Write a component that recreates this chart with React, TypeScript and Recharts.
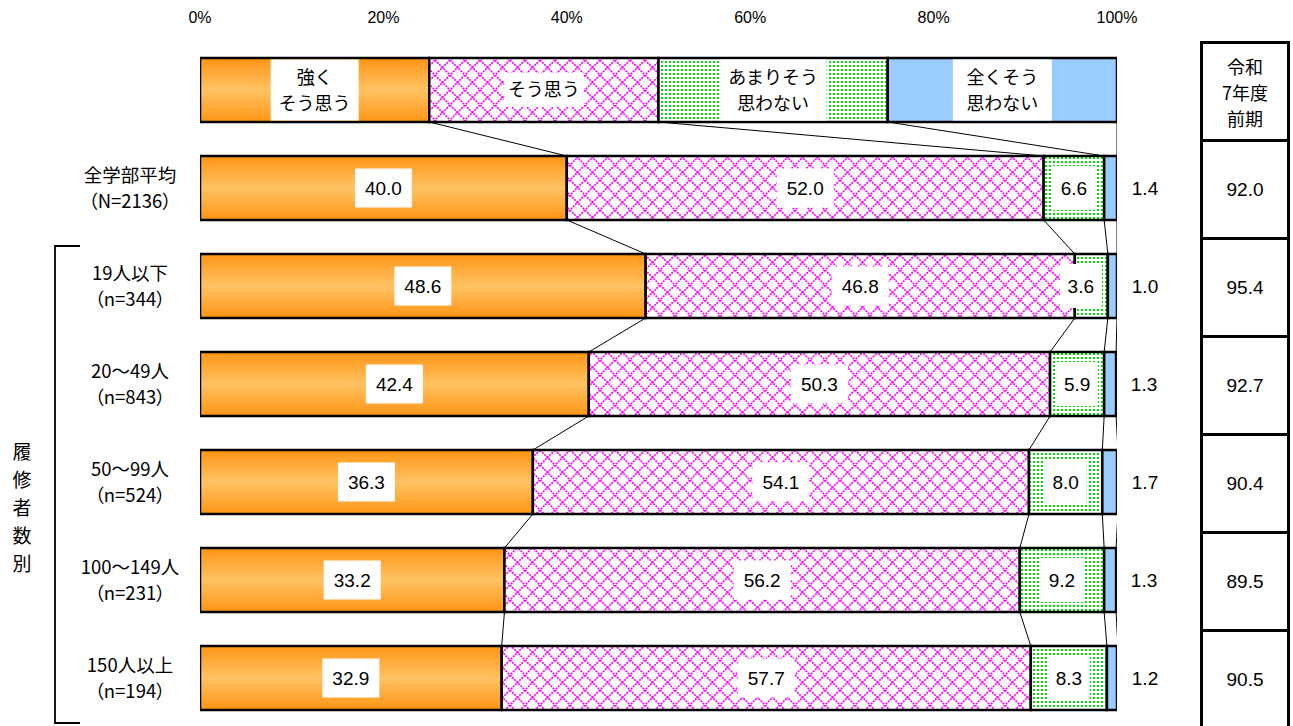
import React from 'react';
import { BarChart, Bar, XAxis, YAxis, LabelList } from 'recharts';

const categories = ['', '全学部平均', '19人以下', '20〜49人', '50〜99人', '100〜149人', '150人以上'];
const sampleSizes = ['', '（N=2136）', '（n=344）', '（n=843）', '（n=524）', '（n=231）', '（n=194）'];
const strongAgree = [25, 40.0, 48.6, 42.4, 36.3, 33.2, 32.9];
const agree = [25, 52.0, 46.8, 50.3, 54.1, 56.2, 57.7];
const disagree = [25, 6.6, 3.6, 5.9, 8.0, 9.2, 8.3];
const strongDisagree = [25, 1.4, 1.0, 1.3, 1.7, 1.3, 1.2];
const legendLabels = [['強く', 'そう思う'], ['そう思う'], ['あまりそう', '思わない'], ['全くそう', '思わない']];
const xTicks = [0, 20, 40, 60, 80, 100];
const tableHeader = ['令和', '7年度', '前期'];
const positiveRate = [92.0, 95.4, 92.7, 90.4, 89.5, 90.5];
const groupTitle = ['履', '修', '者', '数', '別'];

const FONT = '"Liberation Sans", "Noto Sans CJK JP", sans-serif';
const JFONT = '"Noto Sans CJK JP", sans-serif';
const GAP = 0.1735;

const series = [strongAgree, agree, disagree, strongDisagree];
const keys = ['s1', 's2', 's3', 's4'];
const fills = ['url(#gOrange)', 'url(#pMagenta)', 'url(#pGreen)', '#99CCFF'];

const data = categories.map((name, i) => ({
  name: name || ' ',
  s1: strongAgree[i],
  s2: agree[i],
  s3: disagree[i],
  s4: strongDisagree[i],
}));

const cum = (i: number, k: number) => {
  let s = 0;
  for (let j = 0; j <= k; j++) s += series[j][i];
  return s;
};

const legendBoxW = [88, 80, 107, 99];

const rowIndex = (p: any) => {
  if (typeof p.index === 'number') return p.index;
  const n = p.payload?.name;
  return data.findIndex((d) => d.name === n);
};

const makeShape = (k: number) => (p: any) => {
  const x = Number(p.x), y = Number(p.y), w = Number(p.width), h = Number(p.height);
  const i = rowIndex(p);
  const conn: React.ReactNode[] = [];
  if (k === 0 && i > 0) {
    const ppu = w / strongAgree[i];
    const gapPx = (h * 2 * GAP) / (1 - 2 * GAP);
    for (let j = 0; j < 4; j++) {
      conn.push(
        <line
          key={j}
          x1={x + cum(i - 1, j) * ppu}
          y1={y - gapPx}
          x2={x + cum(i, j) * ppu}
          y2={y}
          stroke="#000"
          strokeWidth={1}
        />
      );
    }
  }
  return (
    <g>
      {conn}
      <rect x={x} y={y} width={w} height={h} fill={fills[k]} stroke="#000" strokeWidth={2.5} />
    </g>
  );
};

const YTick = (p: any) => {
  const v = p.payload?.value;
  let i = p.payload?.index;
  if (typeof i !== 'number') i = data.findIndex((d) => d.name === v);
  if (!categories[i]) return null;
  const cx = p.x - 62;
  return (
    <text x={cx} y={p.y} textAnchor="middle" fontSize={18.5} fontFamily={JFONT} fill="#000" style={{ fontFeatureSettings: '"palt"' }}>
      <tspan x={cx} dy={-6}>{categories[i]}</tspan>
      <tspan x={cx} dy={26}>{sampleSizes[i]}</tspan>
    </text>
  );
};

const XTick = (p: any) => (
  <text x={p.x} y={p.y - 10} textAnchor="middle" fontSize={16} fontFamily={FONT} fill="#000">
    {`${p.payload.value}%`}
  </text>
);

const makeLabel = (k: number) => (p: any) => {
  const x = Number(p.x), y = Number(p.y), w = Number(p.width), h = Number(p.height);
  const index = p.index;
  const cx = x + w / 2;
  const cy = y + h / 2;
  if (index === 0) {
    const lines = legendLabels[k];
    const bw = legendBoxW[k];
    const bh = k === 1 ? 34 : h - 3;
    return (
      <g>
        <rect x={cx - bw / 2} y={cy - bh / 2} width={bw} height={bh} fill="#fff" />
        <text x={cx} y={cy} textAnchor="middle" fontSize={18} fontFamily={JFONT} fill="#000">
          {lines.length === 1 ? (
            <tspan x={cx} dy={6}>{lines[0]}</tspan>
          ) : (
            <>
              <tspan x={cx} dy={-6}>{lines[0]}</tspan>
              <tspan x={cx} dy={26}>{lines[1]}</tspan>
            </>
          )}
        </text>
      </g>
    );
  }
  const str = Number(p.value).toFixed(1);
  if (k === 3) {
    return (
      <text x={x + w + 28} y={cy + 7} textAnchor="middle" fontSize={19} fontFamily={FONT} fill="#000">
        {str}
      </text>
    );
  }
  const bw = k === 2 ? str.length * 10 + 12 : str.length * 10 + 17;
  const bh = k === 2 ? 44 : 39;
  let bx = cx - bw / 2;
  if (bx + bw > x + w - 6) bx = x + w - 6 - bw;
  const tx = bx + bw / 2;
  return (
    <g>
      <rect x={bx} y={cy - bh / 2} width={bw} height={bh} fill="#fff" />
      <text x={tx} y={cy + 7} textAnchor="middle" fontSize={19} fontFamily={FONT} fill="#000">
        {str}
      </text>
    </g>
  );
};

export default function App() {
  return (
    <div style={{ position: 'absolute', left: 0, top: 0, width: 1293, height: 726, overflow: 'hidden', background: '#fff' }}>
      <svg width={0} height={0} style={{ position: 'absolute' }}>
        <defs>
          <linearGradient id="gOrange" x1="0" y1="0" x2="0" y2="1">
            <stop offset="0%" stopColor="#FF9514" />
            <stop offset="50%" stopColor="#FFC262" />
            <stop offset="100%" stopColor="#FF9514" />
          </linearGradient>
          <pattern id="pMagenta" patternUnits="userSpaceOnUse" width={15} height={15}>
            <rect x={0} y={0} width={15} height={15} fill="#fff" />
            <path d="M0,0 L15,15 M15,0 L0,15" stroke="#FF00FF" strokeWidth={1.7} strokeDasharray="2 1" fill="none" />
          </pattern>
          <pattern id="pGreen" patternUnits="userSpaceOnUse" width={4} height={4}>
            <rect x={0} y={0} width={4} height={4} fill="#fff" />
            <rect x={1} y={1} width={2} height={2} fill="#00E000" />
          </pattern>
        </defs>
      </svg>
      <BarChart
        width={1293}
        height={727}
        data={data}
        layout="vertical"
        margin={{ top: 0, right: 176, bottom: 0, left: 0 }}
        barCategoryGap={`${GAP * 100}%`}
      >
        <XAxis
          type="number"
          orientation="top"
          domain={[0, 100]}
          allowDataOverflow
          ticks={xTicks}
          height={41}
          axisLine={false}
          tickLine={false}
          tick={<XTick />}
          interval={0}
        />
        <YAxis type="category" dataKey="name" width={200} axisLine={false} tickLine={false} tick={<YTick />} interval={0} />
        {keys.map((key, k) => (
          <Bar
            key={key}
            dataKey={key}
            stackId="a"
            fill={fills[k]}
            stroke="#000"
            strokeWidth={2.5}
            shape={makeShape(k)}
            isAnimationActive={false}
          >
            <LabelList dataKey={key} content={makeLabel(k)} />
          </Bar>
        ))}
      </BarChart>
      <svg width={100} height={726} style={{ position: 'absolute', left: 0, top: 0 }}>
        <polyline points="80,246 55,246 55,723 80,723" fill="none" stroke="#000" strokeWidth={1.8} />
      </svg>
      <div style={{ position: 'absolute', left: 7, top: 437, width: 30, fontFamily: JFONT, fontSize: 19, lineHeight: '28px', textAlign: 'center', color: '#000' }}>
        {groupTitle.map((c, i) => (
          <div key={i}>{c}</div>
        ))}
      </div>
      <div style={{ position: 'absolute', left: 1200, top: 41, width: 90, height: 101, boxSizing: 'border-box', border: '3px solid #000', display: 'flex', flexDirection: 'column', justifyContent: 'center', alignItems: 'center', fontFamily: JFONT, fontSize: 18, lineHeight: '26px', color: '#000' }}>
        {tableHeader.map((t, i) => (
          <div key={i}>{t}</div>
        ))}
      </div>
      {positiveRate.map((v, i) => (
        <div key={i} style={{ position: 'absolute', left: 1200, top: 139 + i * 98, width: 90, height: 101, boxSizing: 'border-box', border: '3px solid #000', display: 'flex', justifyContent: 'center', alignItems: 'center', fontFamily: FONT, fontSize: 19, color: '#000' }}>
          {v.toFixed(1)}
        </div>
      ))}
    </div>
  );
}
